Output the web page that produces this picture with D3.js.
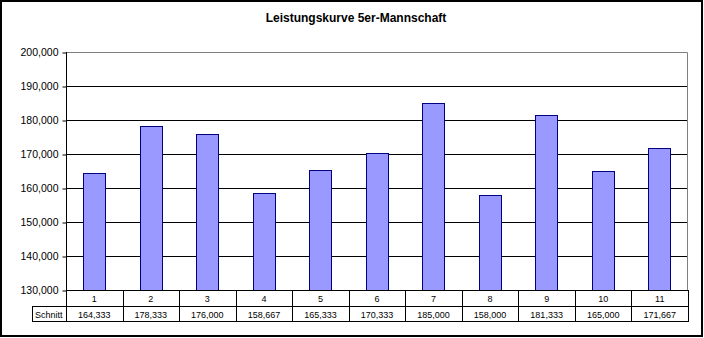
<!DOCTYPE html>
<html><head><meta charset="utf-8">
<script src="https://cdn.jsdelivr.net/npm/d3@7"></script>
<style>body{margin:0;background:#fff}svg{display:block}text{font-family:Arial,"Liberation Sans",sans-serif}</style>
</head><body>
<script>
const title = "Leistungskurve 5er-Mannschaft";
const categories = ["1","2","3","4","5","6","7","8","9","10","11"];
const seriesName = "Schnitt";
const values = [164333,178333,176000,158667,165333,170333,185000,158000,181333,165000,171667];
const yTicks = [130000,140000,150000,160000,170000,180000,190000,200000];

const W = 704, H = 338;
const pLeft = 66, pRight = 688, pTop = 52, pBottom = 290;
const row1 = 306, row2 = 321, labelLeft = 32;

const svg = d3.select("body").append("svg").attr("width", W).attr("height", H);
svg.append("rect").attr("x",1).attr("y",1).attr("width",701).attr("height",335)
  .attr("fill","#fff").attr("stroke","#000").attr("stroke-width",2);

svg.append("text").attr("x",356).attr("y",22).attr("text-anchor","middle")
  .attr("font-size","12px").attr("font-weight","bold").text(title);

const y = d3.scaleLinear().domain([130000,200000]).range([pBottom, pTop]);
const x = d3.scaleBand().domain(categories).range([pLeft, pRight]).paddingInner(0.6).paddingOuter(0.3);
const xc = d3.scaleBand().domain(categories).range([pLeft, pRight]).padding(0);

// gridlines
svg.append("g").selectAll("line").data(yTicks.slice(1,-1)).join("line")
  .attr("x1",pLeft).attr("x2",pRight)
  .attr("y1",d=>Math.round(y(d))+0.5).attr("y2",d=>Math.round(y(d))+0.5)
  .attr("stroke","#000");
// plot border top/right (gray)
svg.append("path").attr("d",`M${pLeft},${pTop+0.5}H${pRight-0.5}V${pBottom}`)
  .attr("fill","none").attr("stroke","#808080");

// bars
svg.append("g").selectAll("rect").data(values).join("rect")
  .attr("x",(d,i)=>Math.round(x(categories[i]))+0.5)
  .attr("y",d=>Math.round(y(d))+0.5)
  .attr("width",Math.round(x.bandwidth())-1)
  .attr("height",d=>pBottom-Math.round(y(d)))
  .attr("fill","#9999FF").attr("stroke","#000080");

// y axis
const yAxis = d3.axisLeft(y).tickValues(yTicks).tickSize(4).tickSizeOuter(0)
  .tickFormat(d3.format(","));
const ga = svg.append("g").attr("transform",`translate(${pLeft+0.5},0.5)`).call(yAxis);
ga.select(".domain").remove();
ga.selectAll("line").attr("stroke","#000");
ga.selectAll("text").attr("font-size","10.5px").attr("fill","#000").attr("x",-8)
  .attr("font-family","Arial, 'Liberation Sans', sans-serif");
svg.append("line").attr("x1",pLeft+0.5).attr("x2",pLeft+0.5).attr("y1",pTop).attr("y2",row2)
  .attr("stroke","#000");

// data table
const tbl = svg.append("g");
tbl.append("line").attr("x1",pLeft).attr("x2",pRight).attr("y1",pBottom+0.5).attr("y2",pBottom+0.5).attr("stroke","#000");
tbl.append("line").attr("x1",labelLeft).attr("x2",pRight).attr("y1",row1+0.5).attr("y2",row1+0.5).attr("stroke","#000");
tbl.append("line").attr("x1",labelLeft).attr("x2",pRight).attr("y1",row2+0.5).attr("y2",row2+0.5).attr("stroke","#000");
tbl.append("line").attr("x1",labelLeft+0.5).attr("x2",labelLeft+0.5).attr("y1",row1).attr("y2",row2+1).attr("stroke","#000");
tbl.selectAll(".vl").data(categories).join("line").attr("class","vl")
  .attr("x1",d=>Math.round(xc(d)+xc.bandwidth())+0.5).attr("x2",d=>Math.round(xc(d)+xc.bandwidth())+0.5)
  .attr("y1",pBottom).attr("y2",row2+1).attr("stroke","#000");
tbl.selectAll(".cat").data(categories).join("text").attr("class","cat")
  .attr("x",d=>xc(d)+xc.bandwidth()/2).attr("y",(pBottom+row1)/2+3.5)
  .attr("text-anchor","middle").attr("font-size","9px").text(d=>d);
tbl.selectAll(".val").data(values).join("text").attr("class","val")
  .attr("x",(d,i)=>xc(categories[i])+xc.bandwidth()/2).attr("y",(row1+row2)/2+4)
  .attr("text-anchor","middle").attr("font-size","9px").text(d=>d3.format(",")(d));
tbl.append("text").attr("x",35).attr("y",(row1+row2)/2+4).attr("font-size","9px").text(seriesName);
</script>
</body></html>
